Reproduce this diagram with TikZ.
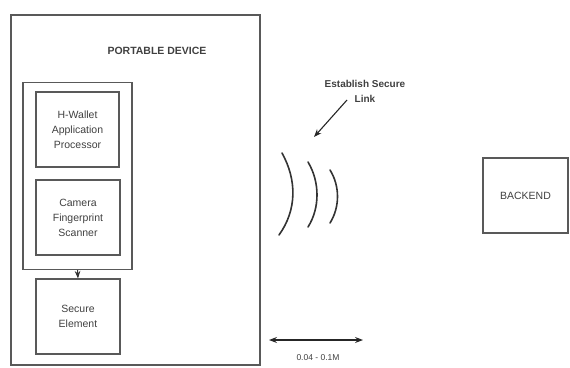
\documentclass[tikz,border=0pt]{standalone}
\usepackage{fontspec}
\setmainfont{Liberation Sans}
\usetikzlibrary{arrows.meta, positioning}

\begin{document}
\begin{tikzpicture}[
      x=1pt, y=-1pt,
      >=Stealth,
      box/.style={rectangle, draw=black!65, line width=1.1pt, inner sep=0pt,
        align=center, font=\fontsize{10.5}{15}\selectfont, text=black!75},
      lbl/.style={align=center, text=black!75},
      wave/.style={draw=black!80, line width=1.6pt, line cap=round}
    ]
      \useasboundingbox (0,0) rectangle (570,367);
      \node[box, minimum width=249pt, minimum height=350pt] (device) at (135.5,190) {};
      \node[lbl, font=\bfseries\fontsize{10.5}{13}\selectfont] (devlbl) at (157,51) {PORTABLE DEVICE};
      \node[box, minimum width=109pt, minimum height=187pt] (group) at (77.5,176) {};
      \node[box, minimum width=83pt, minimum height=75pt] (wallet) at (77.5,129.5) {H-Wallet\\Application\\Processor};
      \node[box, minimum width=84pt, minimum height=75pt] (camera) at (78,217.5) {Camera\\Fingerprint\\Scanner};
      \node[box, minimum width=84pt, minimum height=75pt] (secure) at (78,316.5) {Secure\\Element};
      \node[box, minimum width=85pt, minimum height=75pt] (backend) at (525.5,195.5) {BACKEND};
      \node[lbl, font=\bfseries\fontsize{10}{15}\selectfont] (link) at (365,91) {Establish Secure\\Link};
      \node[lbl, font=\fontsize{8.5}{10}\selectfont] (range) at (318,358) {0.04 - 0.1M};
      \coordinate (a0) at (347,100);
      \coordinate (a1) at (314,137);
      \coordinate (r0) at (269,340);
      \coordinate (r1) at (363,340);
      % link pointer and distance
      \draw[->, line width=1.1pt, black!85] (a0) -- (a1);
      \draw[<->, line width=1.1pt, black!85] (r0) -- (r1);
      \draw[->, line width=1pt, black!80] (group.south) -- (secure.north);
      % radio waves
      \draw[wave] (282,153) .. controls (297,180) and (297,210) .. (279,235);
      \draw[wave] (308,162) .. controls (320,182) and (320,208) .. (308,227);
      \draw[wave] (330,170) .. controls (340,186) and (340,207) .. (330,223);
    \end{tikzpicture}
\end{document}
